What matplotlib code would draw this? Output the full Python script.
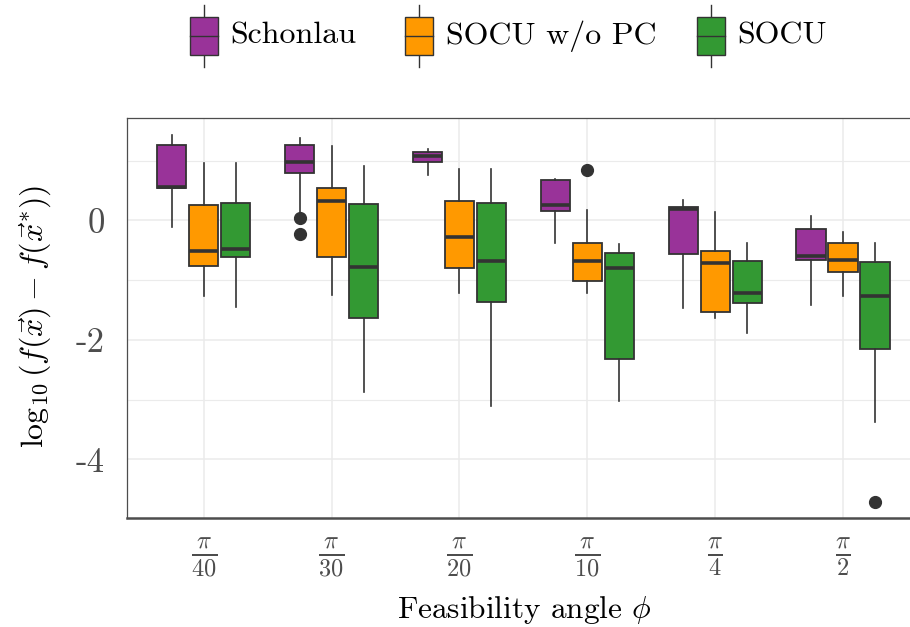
import matplotlib
matplotlib.use("Agg")
import matplotlib.pyplot as plt
from matplotlib.patches import Rectangle
from matplotlib.lines import Line2D

plt.rcParams["font.family"] = "serif"
plt.rcParams["font.serif"] = ["cmr10", "DejaVu Serif"]
plt.rcParams["mathtext.fontset"] = "cm"
plt.rcParams["axes.unicode_minus"] = False

angles = [r"$\frac{\pi}{40}$", r"$\frac{\pi}{30}$", r"$\frac{\pi}{20}$",
          r"$\frac{\pi}{10}$", r"$\frac{\pi}{4}$", r"$\frac{\pi}{2}$"]
methods = ["Schonlau", "SOCU w/o PC", "SOCU"]
colors = ["#993399", "#FF9900", "#339933"]

# box summaries per angle, log10 error
schonlau_lo = [-0.11, 0.12, 0.77, -0.38, -1.46, -1.41]
schonlau_q1 = [0.55, 0.79, 0.98, 0.16, -0.56, -0.66]
schonlau_med = [0.565, 0.98, 1.08, 0.26, 0.20, -0.59]
schonlau_q3 = [1.26, 1.26, 1.15, 0.67, 0.22, -0.15]
schonlau_hi = [1.43, 1.39, 1.20, 0.69, 0.35, 0.08]
schonlau_out = [[], [0.04, -0.22], [], [], [], []]

nopc_lo = [-1.27, -1.25, -1.21, -1.21, -1.63, -1.27]
nopc_q1 = [-0.76, -0.62, -0.79, -1.01, -1.53, -0.86]
nopc_med = [-0.51, 0.32, -0.28, -0.68, -0.72, -0.67]
nopc_q3 = [0.26, 0.54, 0.33, -0.37, -0.51, -0.37]
nopc_hi = [0.97, 1.24, 0.87, 0.17, 0.14, -0.19]
nopc_out = [[], [], [], [0.84], [], []]

socu_lo = [-1.45, -2.87, -3.11, -3.03, -1.88, -3.37]
socu_q1 = [-0.62, -1.63, -1.37, -2.32, -1.38, -2.16]
socu_med = [-0.47, -0.78, -0.68, -0.80, -1.22, -1.26]
socu_q3 = [0.29, 0.28, 0.30, -0.55, -0.68, -0.69]
socu_hi = [0.97, 0.91, 0.87, -0.39, -0.37, -0.38]
socu_out = [[], [], [], [], [], [-4.72]]

series = [
    (schonlau_lo, schonlau_q1, schonlau_med, schonlau_q3, schonlau_hi, schonlau_out),
    (nopc_lo, nopc_q1, nopc_med, nopc_q3, nopc_hi, nopc_out),
    (socu_lo, socu_q1, socu_med, socu_q3, socu_hi, socu_out),
]

edge = "#333333"
fig = plt.figure(figsize=(9.1, 6.27), dpi=100)
ax = fig.add_axes([127 / 910, 1 - 518.3 / 627, 1 - 127 / 910, (518.3 - 118) / 627])

offsets = [-0.25, 0.0, 0.25]
for k, (lo, q1, med, q3, hi, out) in enumerate(series):
    stats = []
    for i in range(len(angles)):
        stats.append(dict(whislo=lo[i], q1=q1[i], med=med[i], q3=q3[i],
                          whishi=hi[i], fliers=out[i]))
    pos = [i + 1 + offsets[k] for i in range(len(angles))]
    ax.bxp(stats, positions=pos, widths=0.23, patch_artist=True,
           showcaps=False, manage_ticks=False,
           boxprops=dict(facecolor=colors[k], edgecolor=edge, linewidth=1.3),
           whiskerprops=dict(color=edge, linewidth=1.2),
           medianprops=dict(color=edge, linewidth=2.6, solid_capstyle="butt"),
           flierprops=dict(marker="o", markersize=8.5, markerfacecolor=edge,
                           markeredgecolor=edge))

ax.set_xlim(0.4, 6.523)
ax.set_ylim(-4.99, 1.717)
ax.set_xticks(range(1, 7))
ax.set_xticklabels(angles)
ax.set_yticks([-4, -2, 0])
ax.set_yticklabels(["-4", "-2", "0"])
ax.set_yticks([-3, -1, 1], minor=True)
ax.tick_params(axis="both", which="both", length=0, labelsize=25, colors="#4D4D4D")
ax.tick_params(axis="y", pad=16)
ax.tick_params(axis="x", pad=12)
ax.grid(True, which="major", color="#EBEBEB", linewidth=1.1)
ax.grid(True, which="minor", axis="y", color="#EBEBEB", linewidth=0.8)
ax.set_axisbelow(True)

for side in ["top", "left"]:
    ax.spines[side].set_color("#4D4D4D")
    ax.spines[side].set_linewidth(0.9)
ax.spines["bottom"].set_color("#4D4D4D")
ax.spines["bottom"].set_linewidth(1.8)
ax.spines["right"].set_visible(False)

fig.text(35 / 910, 1 - 316 / 627, r"$\log_{10}(f(\vec{x}) - f(\vec{x}^{*}))$",
         rotation=90, ha="center", va="center", fontsize=23)
fig.text(524 / 910, 1 - 610 / 627, r"Feasibility angle $\phi$",
         ha="center", va="center", fontsize=22.5)

# legend keys drawn in pixel space across the top
key_x = [204, 419, 711]
text_x = [230, 446, 737]
for k in range(3):
    cx, cy = key_x[k], 627 - 36
    fig.add_artist(Line2D([cx, cx], [cy - 31, cy + 31], color=edge, linewidth=1.0,
                          transform=None, zorder=1))
    fig.add_artist(Rectangle((cx - 14, cy - 19), 28, 38, facecolor=colors[k],
                             edgecolor=edge, linewidth=1.0, transform=None, zorder=2))
    fig.add_artist(Line2D([cx - 14, cx + 14], [cy, cy], color=edge, linewidth=1.0,
                          transform=None, zorder=3))
    fig.text(text_x[k] / 910, 1 - 36 / 627, methods[k], ha="left", va="center",
             fontsize=23)

fig.savefig("out.png", dpi=100)
